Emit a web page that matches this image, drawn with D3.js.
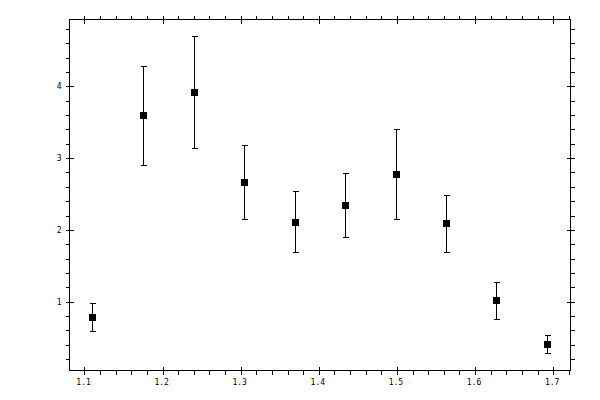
<!DOCTYPE html>
<html>
<head>
<meta charset="utf-8">
<script src="https://cdn.jsdelivr.net/npm/d3@7"></script>
<style>
  body { margin: 0; background: #fff; }
  svg line, svg rect { shape-rendering: crispEdges; }
  svg text { font-family: "DejaVu Sans Mono", monospace; font-size: 8px; fill: #000; }
</style>
</head>
<body>
<svg id="chart" width="600" height="400"></svg>
<script>
// values
const xValues = [1.110, 1.1755, 1.2396, 1.3036, 1.3689, 1.4329, 1.4982, 1.5622, 1.6263, 1.6916];
const yValues = [0.791, 3.606, 3.926, 2.672, 2.115, 2.352, 2.783, 2.101, 1.028, 0.415];
const yHigh   = [0.986, 4.288, 4.706, 3.188, 2.547, 2.797, 3.405, 2.491, 1.279, 0.540];
const yLow    = [0.596, 2.909, 3.146, 2.156, 1.697, 1.906, 2.156, 1.697, 0.763, 0.280];
const xTicks = [1.1, 1.2, 1.3, 1.4, 1.5, 1.6, 1.7];
const yTicks = [1, 2, 3, 4];

const data = xValues.map((x, i) => ({ x, y: yValues[i], hi: yHigh[i], lo: yLow[i] }));

const plotL = 69.5, plotR = 570.5, plotT = 19.5, plotB = 370.5;

const x = d3.scaleLinear().domain([1.0808, 1.7222]).range([plotL, plotR]);
const y = d3.scaleLinear().domain([0.043, 4.93]).range([plotB, plotT]);

const svg = d3.select("#chart");

// frame
svg.append("rect")
    .attr("x", plotL).attr("y", plotT)
    .attr("width", plotR - plotL).attr("height", plotB - plotT)
    .attr("fill", "none").attr("stroke", "#000").attr("stroke-width", 1);

// minor ticks every 0.02 on x, 0.2 on y
const xMinor = d3.range(54, 87).map(k => k / 50).filter(v => v >= 1.0808 && v <= 1.7222);
const yMinor = d3.range(1, 25).map(k => k / 5);

function isMajor(v, list) { return list.some(t => Math.abs(t - v) < 1e-6); }

const ticks = svg.append("g").attr("stroke", "#000").attr("stroke-width", 1);

xMinor.forEach(v => {
    const px = Math.round(x(v)) + 0.5;
    const major = isMajor(v, xTicks);
    // bottom
    ticks.append("line").attr("x1", px).attr("x2", px)
        .attr("y1", major ? plotB - 4 : plotB).attr("y2", plotB + 4);
    // top
    ticks.append("line").attr("x1", px).attr("x2", px)
        .attr("y1", major ? plotT + 4 : plotT).attr("y2", plotT - 4);
});

yMinor.forEach(v => {
    const py = Math.round(y(v)) + 0.5;
    const major = isMajor(v, yTicks);
    ticks.append("line").attr("y1", py).attr("y2", py)
        .attr("x1", major ? plotL + 4 : plotL).attr("x2", plotL - 4);
    ticks.append("line").attr("y1", py).attr("y2", py)
        .attr("x1", major ? plotR - 4 : plotR).attr("x2", plotR + 4);
});

// tick labels
svg.append("g").selectAll("text")
    .data(xTicks)
    .join("text")
    .attr("x", d => x(d) - 1)
    .attr("y", plotB + 14)
    .attr("text-anchor", "middle")
    .text(d => d3.format(".1f")(d));

svg.append("g").selectAll("text")
    .data(yTicks)
    .join("text")
    .attr("x", plotL - 8)
    .attr("y", d => y(d) + 3)
    .attr("text-anchor", "end")
    .text(d => d);

// error bars
const bars = svg.append("g").attr("stroke", "#000").attr("stroke-width", 1);
data.forEach(d => {
    const px = Math.round(x(d.x)) + 0.5;
    const hi = Math.round(y(d.hi)) + 0.5, lo = Math.round(y(d.lo)) + 0.5;
    bars.append("line").attr("x1", px).attr("x2", px).attr("y1", hi).attr("y2", lo);
    bars.append("line").attr("x1", px - 3).attr("x2", px + 3).attr("y1", hi).attr("y2", hi);
    bars.append("line").attr("x1", px - 3).attr("x2", px + 3).attr("y1", lo).attr("y2", lo);
});

// markers
svg.append("g").selectAll("rect")
    .data(data)
    .join("rect")
    .attr("x", d => Math.round(x(d.x)) - 3)
    .attr("y", d => Math.round(y(d.y)) - 3)
    .attr("width", 7)
    .attr("height", 7)
    .attr("fill", "#000");
</script>
</body>
</html>
